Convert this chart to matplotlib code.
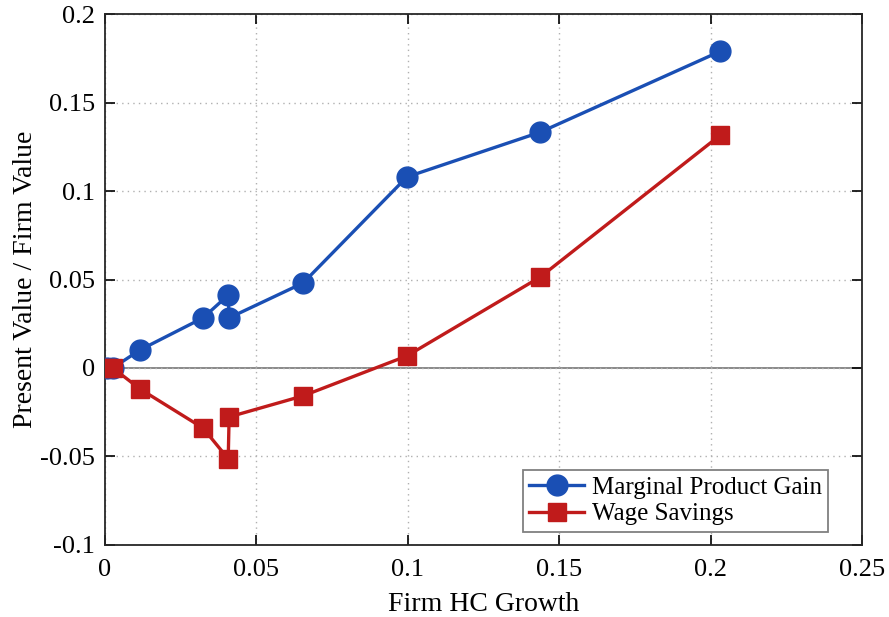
import numpy as np
import matplotlib.pyplot as plt

plt.rcParams['font.family'] = ['Liberation Serif', 'DejaVu Serif']
plt.rcParams['mathtext.fontset'] = 'stix'

# data
hc_growth = [0.0007, 0.0026, 0.0116, 0.0324, 0.0407, 0.0410, 0.0654, 0.0997, 0.1437, 0.2031]
mp_gain = [0.0, 0.0, 0.0102, 0.0283, 0.0412, 0.0283, 0.048, 0.108, 0.1333, 0.179]
wage_sav = [0.0, 0.0, -0.0119, -0.034, -0.0514, -0.0277, -0.0158, 0.0068, 0.0514, 0.1316]

xticks = [0, 0.05, 0.1, 0.15, 0.2, 0.25]
xtick_labels = ['0', '0.05', '0.1', '0.15', '0.2', '0.25']
yticks = [-0.1, -0.05, 0, 0.05, 0.1, 0.15, 0.2]
ytick_labels = ['-0.1', '-0.05', '0', '0.05', '0.1', '0.15', '0.2']

blue = '#1a4fb4'
red = '#c01b1b'

fig = plt.figure(figsize=(8.89, 6.17), dpi=100)
ax = fig.add_axes([0.118, 0.117, 0.852, 0.860])

ax.axhline(0, color='#808080', lw=1.3, zorder=1)
ax.plot(hc_growth, mp_gain, '-o', color=blue, lw=2.4, ms=15, label='Marginal Product Gain', zorder=3)
ax.plot(hc_growth, wage_sav, '-s', color=red, lw=2.4, ms=13, label='Wage Savings', zorder=3)

ax.set_xlim(0, 0.25)
ax.set_ylim(-0.1, 0.2)
ax.set_xticks(xticks)
ax.set_xticklabels(xtick_labels)
ax.set_yticks(yticks)
ax.set_yticklabels(ytick_labels)
ax.tick_params(direction='in', length=7, width=1.2, labelsize=19, top=True, right=True, pad=7)
ax.tick_params(axis='x', pad=10)
ax.grid(True, linestyle=(0, (1, 3)), color='#b0b0b0', lw=1.0)
for s in ax.spines.values():
    s.set_linewidth(1.3)
    s.set_color('#262626')

ax.set_xlabel('Firm HC Growth', fontsize=20, labelpad=8)
ax.set_ylabel('Present Value / Firm Value', fontsize=20, labelpad=2)

leg = ax.legend(loc='lower right', bbox_to_anchor=(0.955, 0.025), fontsize=18, fancybox=False,
                framealpha=1, edgecolor='#808080', handlelength=2.2, borderaxespad=0,
                borderpad=0.25, labelspacing=0.15, handletextpad=0.3)
leg.get_frame().set_linewidth(1.3)

fig.savefig('out.png', dpi=100)
